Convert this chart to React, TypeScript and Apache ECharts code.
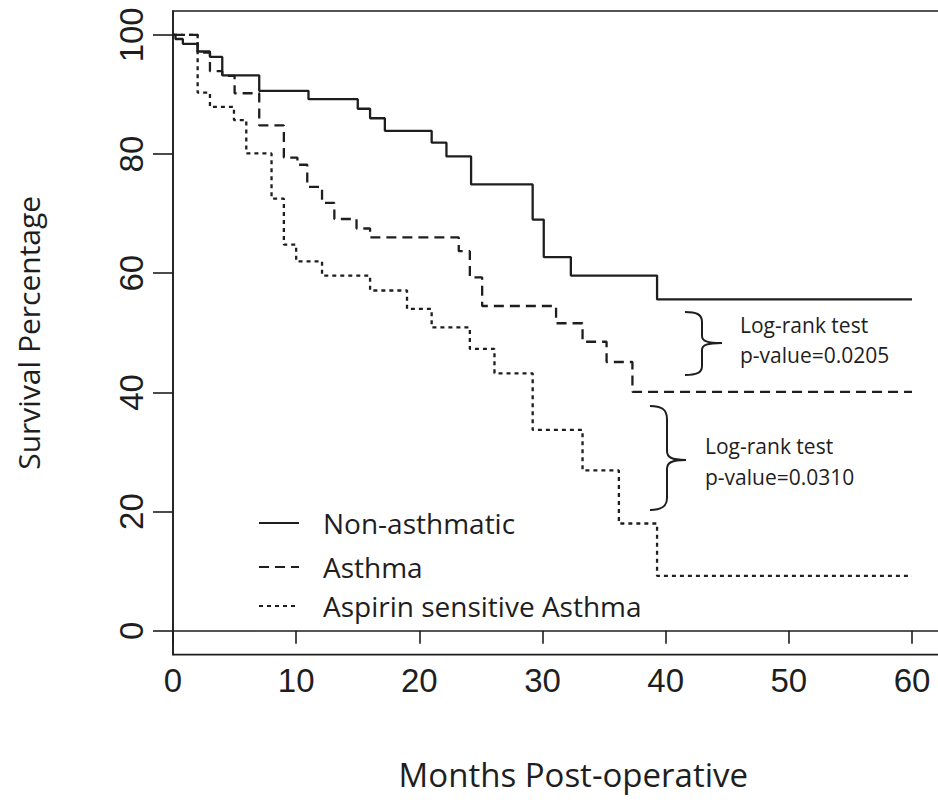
import React, { useEffect, useRef } from "react";
import * as echarts from "echarts";

// ---- Data ----
const xTicks = [0, 10, 20, 30, 40, 50, 60];
const yTicks = [0, 20, 40, 60, 80, 100];

const seriesNames = ["Non-asthmatic", "Asthma", "Aspirin sensitive Asthma"];

const nonAsthmaticMonths = [0, 0.2, 0.8, 2, 3, 4, 7, 11, 15, 16, 17.2, 21, 22.2, 24.2, 29.2, 30.1, 32.3, 39.3, 60];
const nonAsthmaticSurvival = [100, 99.3, 98.5, 97.2, 96.3, 93.2, 90.6, 89.2, 87.6, 86.0, 83.9, 81.9, 79.6, 74.9, 69.0, 62.7, 59.6, 55.6, 55.6];

const asthmaMonths = [0, 2, 3, 4, 5, 7, 9, 10.1, 10.9, 12.1, 13.1, 14.9, 16, 23.2, 24.1, 25.1, 31.1, 33.25, 35.2, 37.3, 60];
const asthmaSurvival = [100, 97.0, 93.9, 93.1, 90.2, 84.8, 79.4, 78.2, 74.5, 71.8, 69.1, 67.5, 66.0, 63.7, 59.3, 54.5, 51.6, 48.5, 45.1, 40.1, 40.1];

const aspirinMonths = [0, 2, 3, 4.95, 5.95, 8, 9, 10, 12.1, 16, 19, 21, 24.1, 26.1, 29.2, 33.25, 36.2, 39.3, 60];
const aspirinSurvival = [100, 90.3, 87.9, 85.7, 80.1, 72.5, 64.8, 62.0, 59.6, 57.1, 54.0, 50.9, 47.3, 43.2, 33.7, 26.9, 18.0, 9.2, 9.2];

const annotation1 = ["Log-rank test", "p-value=0.0205"];
const annotation2 = ["Log-rank test", "p-value=0.0310"];

// ---- Brace shapes ----
const brace1D =
  "M685,312 C696,312 702,314 702,322 L702,336 C702,341 707,343 722,343 C707,343 702,345 702,350 L702,366 C702,373 696,375 685,375";
const brace2D =
  "M650,406 C661,406 667,409 667,419 L667,451 C667,457 671,460 686,460 C671,460 667,463 667,469 L667,498 C667,507 661,510 650,510";
echarts.graphic.registerShape("brace1", echarts.graphic.extendPath(brace1D, {}));
echarts.graphic.registerShape("brace2", echarts.graphic.extendPath(brace2D, {}));

const INK = "#1e1e1e";
const SANS = '"Open Sans", "Noto Sans", sans-serif';
const NUM = '"Liberation Sans Narrow", "Liberation Sans", Arial, sans-serif';

function zip(a: number[], b: number[]) {
  return a.map((t, i) => [t, b[i]]);
}

export default function App() {
  const ref = useRef<HTMLDivElement>(null);

  useEffect(() => {
    if (!ref.current) return;
    const chart = echarts.init(ref.current, undefined, { renderer: "svg" });

    const lineTypes: any[] = ["solid", [10, 6], [4, 4]];
    const datasets = [
      zip(nonAsthmaticMonths, nonAsthmaticSurvival),
      zip(asthmaMonths, asthmaSurvival),
      zip(aspirinMonths, aspirinSurvival),
    ];
    const legendCenters = [523, 567, 606];

    const annText = (x: number, y: number, text: string) => ({
      type: "text",
      x,
      y,
      style: { text, fontSize: 21, fontFamily: SANS, fill: INK, align: "left", verticalAlign: "middle" },
    });

    const option: any = {
      animation: false,
      backgroundColor: "#ffffff",
      grid: {
        left: 173,
        top: 11,
        width: 768.6,
        height: 643.6,
        show: true,
        borderColor: INK,
        borderWidth: 1.6,
        backgroundColor: "transparent",
      },
      xAxis: {
        type: "value",
        min: 0,
        max: 62.4,
        axisLine: { show: true, lineStyle: { color: INK, width: 1.6 } },
        axisTick: { show: true, customValues: xTicks, length: 13, lineStyle: { color: INK, width: 1.6 } },
        axisLabel: {
          customValues: xTicks,
          margin: 9,
          fontSize: 33,
          fontFamily: NUM,
          color: INK,
        },
        splitLine: { show: false },
        name: "Months Post-operative",
        nameLocation: "middle",
        nameGap: 103,
        nameTextStyle: { fontSize: 33, fontFamily: SANS, color: INK, padding: [0, 0, 0, 32] },
      },
      yAxis: {
        type: "value",
        min: -4,
        max: 104,
        axisLine: { show: true, lineStyle: { color: INK, width: 1.6 } },
        axisTick: { show: true, customValues: yTicks, length: 20, lineStyle: { color: INK, width: 1.6 } },
        axisLabel: {
          customValues: yTicks,
          rotate: 90,
          margin: 25,
          fontSize: 33,
          fontFamily: NUM,
          color: INK,
        },
        splitLine: { show: false },
        name: "Survival Percentage",
        nameLocation: "middle",
        nameRotate: 90,
        nameGap: 130,
        nameTextStyle: { fontSize: 30, fontFamily: SANS, color: INK },
      },
      legend: seriesNames.map((n, i) => ({
        data: [n],
        orient: "vertical",
        left: 258,
        top: legendCenters[i] - 16,
        padding: 0,
        itemWidth: 40,
        itemHeight: 14,
        selectedMode: false,
        itemStyle: { opacity: 0 },
        textStyle: {
          fontSize: 28,
          fontFamily: SANS,
          color: INK,
          lineHeight: 32,
          padding: [0, 0, 0, 19],
        },
      })),
      series: seriesNames.map((n, i) => ({
        name: n,
        type: "line",
        step: "end",
        symbol: "none",
        silent: true,
        data: datasets[i],
        lineStyle: { color: INK, width: 2.3, type: lineTypes[i] },
        itemStyle: { color: INK },
      })),
      graphic: [
        { type: "brace1", x: 0, y: 0, style: { stroke: INK, lineWidth: 2, fill: "none" } },
        { type: "brace2", x: 0, y: 0, style: { stroke: INK, lineWidth: 2, fill: "none" } },
        annText(740, 325, annotation1[0]),
        annText(740, 355, annotation1[1]),
        annText(705, 446, annotation2[0]),
        annText(705, 477, annotation2[1]),
      ],
    };

    chart.setOption(option);
    return () => chart.dispose();
  }, []);

  return (
    <div
      style={{
        position: "fixed",
        left: 0,
        top: 0,
        width: 938,
        height: 805,
        overflow: "hidden",
        background: "#ffffff",
      }}
    >
      <div ref={ref} style={{ width: 950, height: 805 }} />
    </div>
  );
}
